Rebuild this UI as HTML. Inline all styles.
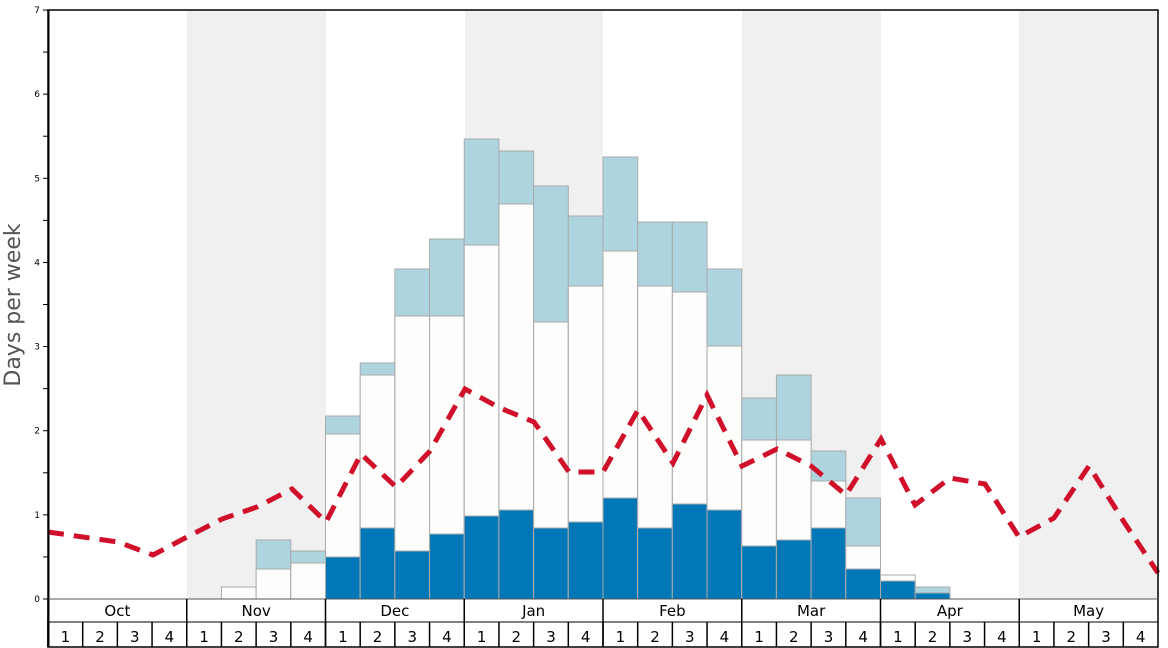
<!DOCTYPE html><html><head><style>body{margin:0;background:#fff}svg{display:block;font-family:"DejaVu Sans","Liberation Sans",sans-serif}</style></head><body>
<svg width="1168" height="648" xmlns="http://www.w3.org/2000/svg">
<rect width="1168" height="648" fill="#fff"/>
<g fill="#f0f0f0">
<rect x="187" y="10" width="139" height="589"/><rect x="465" y="10" width="138" height="589"/><rect x="742" y="10" width="139" height="589"/><rect x="1019" y="10" width="139" height="589"/>
</g>
<g id="bars" stroke="#aaa" stroke-width="1"></g>
<polyline fill="none" stroke="#d0102a" stroke-width="5" stroke-dasharray="16,10" points="48,532 83,537 118,542 153,555 187,537 222,519 257,507 292,489 326,522 361,454 396,487 430,451 465,389 500,408 534,422 569,472 603,472 638,410 673,463 707,395 742,466 777,449 811,466 846,495 881,439 915,505 950,478 985,484 1019,537 1054,518 1089,466 1124,522 1158,573"/>
<rect x="48" y="10" width="1110" height="637" fill="none" stroke="#000" stroke-width="1.5"/>
<line x1="48.5" y1="10" x2="48.5" y2="647" stroke="#000" stroke-width="2"/>
<line x1="48" y1="599" x2="1158" y2="599" stroke="#555"/>
<line x1="48" y1="622" x2="1158" y2="622" stroke="#000"/>
<g id="grid" stroke="#000"></g>
<g id="yax" font-size="9" fill="#000" text-anchor="end"></g>
<g id="lab" font-size="15" fill="#000" text-anchor="middle"></g>
<text transform="translate(20,305) rotate(-90)" font-size="22" fill="#555" text-anchor="middle">Days per week</text>
</svg>
<script>
const ns="http://www.w3.org/2000/svg";function el(p,t,a,tx){const e=document.createElementNS(ns,t);for(const k in a)e.setAttribute(k,a[k]);if(tx!=null)e.textContent=tx;p.appendChild(e);return e}
const W=(1158-48)/32,X=i=>48+i*W;
const d=[[5,null,587,null],[6,540,569,null],[7,551,563,null],[8,416,434,557],[9,363,375,528],[10,269,316,551],[11,239,316,534],[12,139,245,516],[13,151,204,510],[14,186,322,528],[15,216,286,522],[16,157,251,498],[17,222,286,528],[18,222,292,504],[19,269,346,510],[20,398,440,546],[21,375,440,540],[22,451,481,528],[23,498,546,569],[24,null,575,581],[25,587,null,593]];
const b=document.getElementById('bars');
d.forEach(([i,bl,wh,dk])=>{const x=X(i);
if(bl!=null)el(b,'rect',{x:x,y:bl,width:W,height:599-bl,fill:'#aed4e0'});
if(wh!=null)el(b,'rect',{x:x,y:wh,width:W,height:599-wh,fill:'#fdfdfb'});
if(dk!=null)el(b,'rect',{x:x,y:dk,width:W,height:599-dk,fill:'#0077b6'});});
const g=document.getElementById('grid'),l=document.getElementById('lab'),y=document.getElementById('yax');
const M=['Oct','Nov','Dec','Jan','Feb','Mar','Apr','May'];
for(let m=0;m<8;m++){el(g,'line',{x1:X(m*4),y1:599,x2:X(m*4),y2:647,'stroke-width':1.5});el(l,'text',{x:X(m*4+2),y:616},M[m]);
for(let k=0;k<4;k++){const i=m*4+k;el(g,'line',{x1:X(i),y1:622,x2:X(i),y2:647,'stroke-width':1.5});el(l,'text',{x:X(i+0.5),y:642},k+1);}}
for(let v=0;v<=14;v++){const yy=599-v*84.14/2;el(g,'line',{x1:43,y1:yy,x2:48,y2:yy,'stroke-width':1});if(v%2==0)el(y,'text',{x:40,y:yy+3},v/2);}
</script>
</body></html>
